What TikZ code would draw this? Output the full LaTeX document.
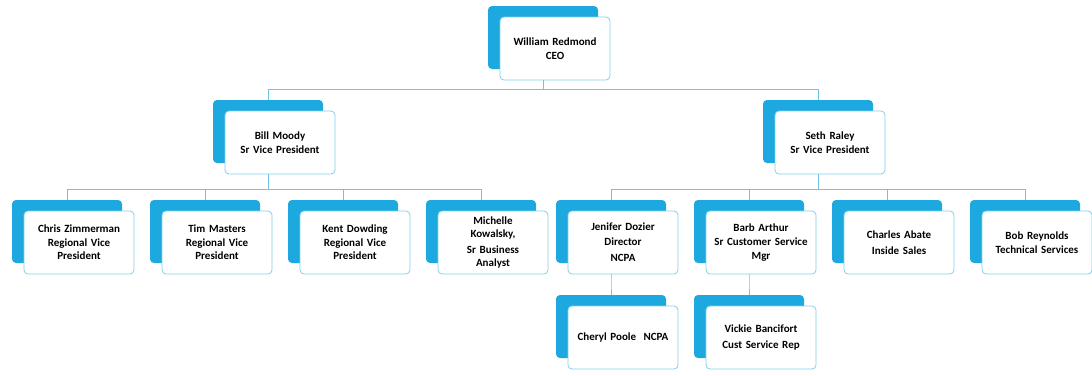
\documentclass[tikz,border=0pt]{standalone}
\usepackage{fontspec}
\setmainfont{Carlito}
\usetikzlibrary{shadows}
\definecolor{boxblue}{RGB}{30,168,224}
\definecolor{boxline}{RGB}{130,208,234}
\definecolor{linkblue}{RGB}{110,196,228}

\begin{document}
\begin{tikzpicture}[x = 1pt, y = -1pt, grow = down,
    level 1/.style = {level distance = 94pt, sibling distance = 550pt},
    level 2/.style = {level distance = 100pt, sibling distance = 138pt},
    level 3/.style = {level distance = 95pt},
    edge from parent/.style = {draw = linkblue, line width = 0.8pt},
    edge from parent path = {([xshift = -12pt]\tikzparentnode.south) |- ([xshift = -12pt, yshift = 21pt]\tikzchildnode.north)
        -- ([xshift = -12pt, yshift = 11pt]\tikzchildnode.north)},
    every node/.style = {shape = rectangle, rounded corners = 4pt, draw = boxline, line width = 0.8pt, fill = white,
        minimum width = 110pt, minimum height = 63pt, text width = 108pt, align = center, inner sep = 0pt,
        font = \fontsize{11}{13.5}\selectfont\bfseries,
        copy shadow = {shadow xshift = -12pt, shadow yshift = 11pt, fill = boxblue, draw = none}}]
    \useasboundingbox (0,0) rectangle (1092,375);
        \node (ceo) at (555,48.5) {William Redmond\\CEO}
            child{ node (bill) {Bill Moody\\[1pt]Sr Vice President}
                child[xshift = 6pt]{ node (chris) {Chris Zimmerman\\Regional Vice\\President} }
                child[xshift = 6pt]{ node (tim) {Tim Masters\\Regional Vice\\President} }
                child[xshift = 6pt]{ node (kent) {Kent Dowding\\Regional Vice\\President} }
                child[xshift = 6pt]{ node (michelle) {Michelle\\Kowalsky,\\[2pt]Sr Business\\Analyst} }}
            child{ node (seth) {Seth Raley\\[1pt]Sr Vice President}
                child{ node (jenifer) {Jenifer Dozier\\[1pt]Director\\[3pt]NCPA}
                    child{ node (cheryl) {Cheryl Poole\ \ NCPA} }}
                child{ node (barb) {Barb Arthur\\[1pt]Sr Customer Service\\Mgr}
                    child{ node (vickie) {Vickie Bancifort\\[2pt]Cust Service Rep} }}
                child{ node (charles) {Charles Abate\\[2pt]Inside Sales} }
                child{ node (bob) {Bob Reynolds\\Technical Services} }};
\end{tikzpicture}
\end{document}
